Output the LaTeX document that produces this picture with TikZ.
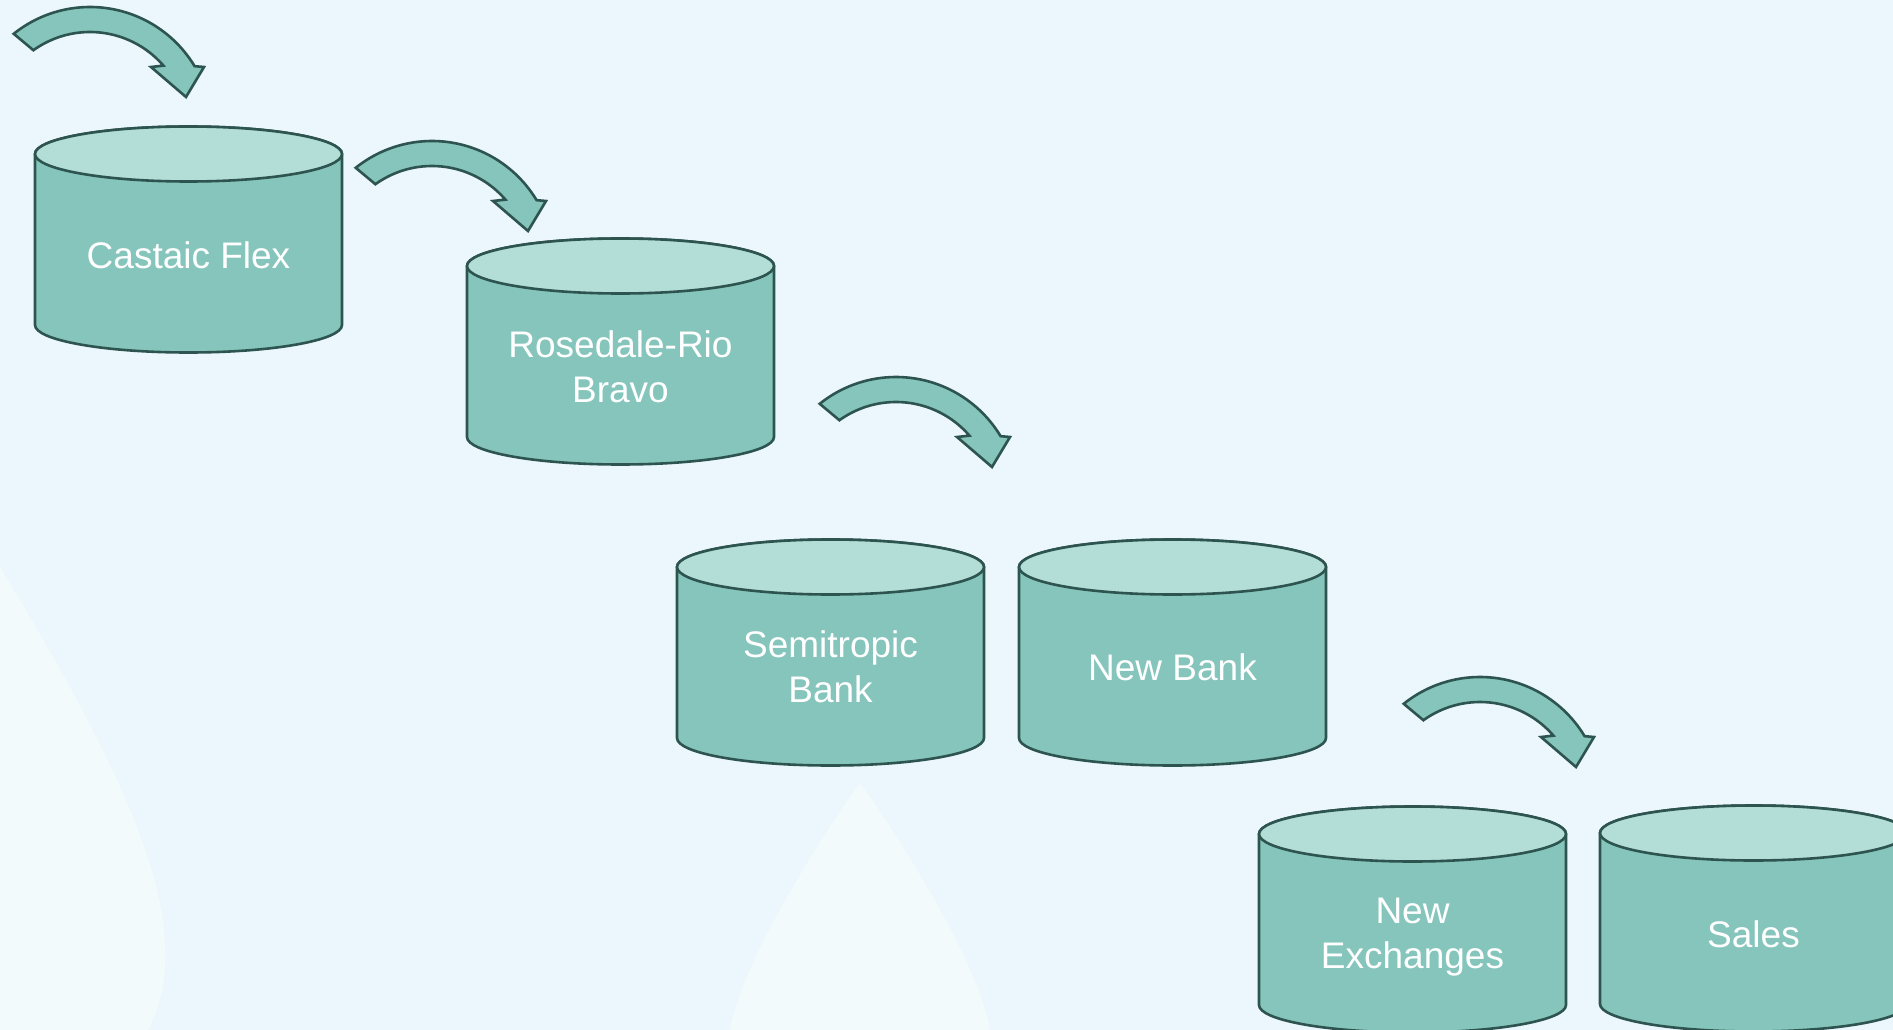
\documentclass[tikz,border=0pt]{standalone}
\usepackage{fontspec}
\setmainfont{Liberation Sans}
\definecolor{bgblue}{HTML}{EBF7FC}
\definecolor{bglight}{HTML}{F3FAFC}
\definecolor{cylbody}{HTML}{85C5BC}
\definecolor{cyltop}{HTML}{B3DDD7}
\definecolor{cylline}{HTML}{2E5450}
\tikzset{
  outline/.style={draw=cylline, line width=2.6pt, line join=miter},
  cyl/.pic={
    \filldraw[outline, fill=cylbody] (-153.5,27) -- (-153.5,198)
      arc[start angle=180, end angle=360, x radius=153.5pt, y radius=27.5pt]
      -- (153.5,27)
      arc[start angle=0, end angle=180, x radius=153.5pt, y radius=27.5pt] -- cycle;
    \filldraw[outline, fill=cyltop] (0,27) ellipse [x radius=153.5pt, y radius=27.5pt];
  },
  bendarrow/.pic={
    \filldraw[outline, fill=cylbody]
      plot[domain=128.7:31, samples=50] ({90+122*cos(\x)},{129-122*sin(\x)})
      -- (204,67) -- (186,97) -- (151,67)
      -- plot[domain=40.8:125.7, samples=50] ({90+97*cos(\x)},{129-97*sin(\x)})
      -- cycle;
  },
  label/.style={text=white, align=center, font=\fontsize{37}{45}\selectfont, inner sep=0pt}
}
\begin{document}
\begin{tikzpicture}[x=1pt, y=-1pt]
  \useasboundingbox (0,0) rectangle (1893,1030);
  \clip (0,0) rectangle (1893,1030);
  \fill[bgblue] (0,0) rectangle (1893,1030);
  % decorative background shapes
  \fill[bglight] (0,567) .. controls (90,715) and (162,850) .. (165,945)
     .. controls (167,985) and (158,1010) .. (148,1030) -- (0,1030) -- cycle;
  \fill[bglight] (860,783) .. controls (805,860) and (740,970) .. (730,1030)
     -- (990,1030) .. controls (980,970) and (915,860) .. (860,783) -- cycle;
  % arrows
  \pic (arrowA) at (0,0) {bendarrow};
  \pic (arrowB) at (342,134) {bendarrow};
  \pic (arrowC) at (806,370) {bendarrow};
  \pic (arrowD) at (1390,670) {bendarrow};
  % cylinders
  \pic (cylA) at (188.5,127) {cyl};
  \pic (cylB) at (620.5,239) {cyl};
  \pic (cylC) at (830.5,540) {cyl};
  \pic (cylD) at (1172.5,540) {cyl};
  \pic (cylE) at (1412.5,807) {cyl};
  \pic (cylF) at (1753.5,806) {cyl};
  % labels
  \node[label] (castaic) at (188.5,255) {Castaic Flex};
  \node[label] (rosedale) at (620.5,367) {Rosedale-Rio\\Bravo};
  \node[label] (semitropic) at (830.5,667) {Semitropic\\Bank};
  \node[label] (newbank) at (1172.5,667) {New Bank};
  \node[label] (newexch) at (1412.5,937.5) {New\\Exchanges};
  \node[label] (sales) at (1753.5,934) {Sales};
\end{tikzpicture}
\end{document}
